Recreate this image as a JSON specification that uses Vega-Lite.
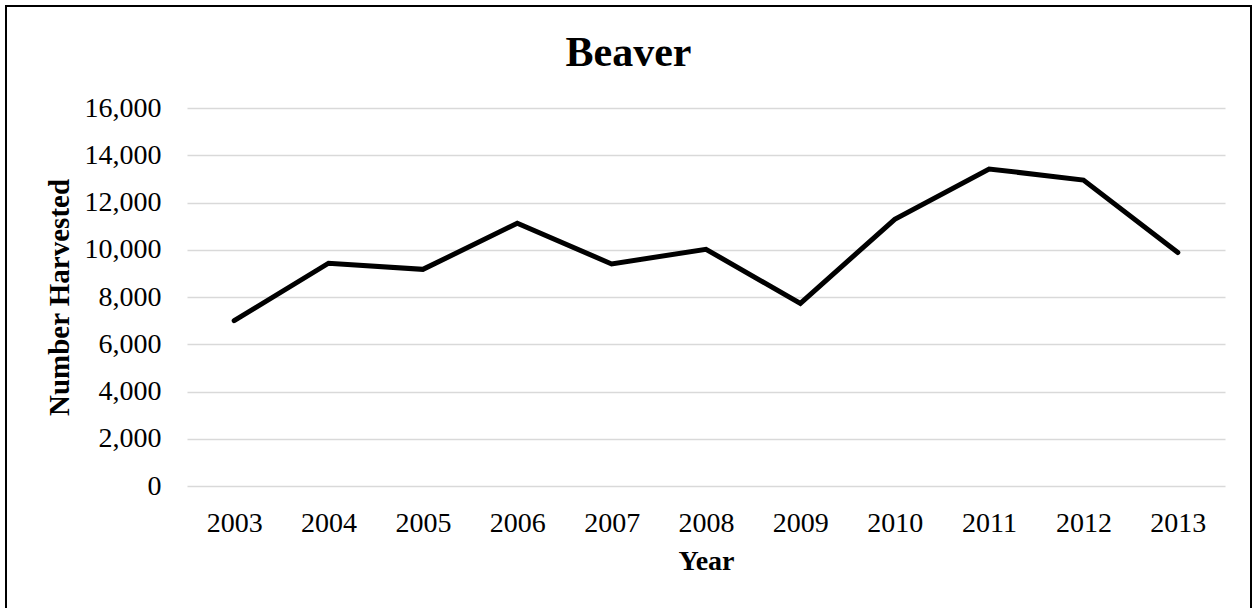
{
  "$schema": "https://vega.github.io/schema/vega-lite/v6.json",
  "width": 1245,
  "height": 604,
  "autosize": {"type": "none"},
  "padding": {"left": 6, "top": 6, "right": 3, "bottom": 0},
  "background": "white",
  "title": {
    "text": "Beaver",
    "font": "Liberation Serif",
    "fontSize": 42,
    "fontWeight": "bold",
    "color": "black",
    "anchor": "middle",
    "baseline": "alphabetic",
    "offset": 0,
    "dy": 102
  },
  "config": {
    "view": {"stroke": "black", "strokeWidth": 2}
  },
  "data": {
    "values": [
      {"Year": "2003", "Harvested": 7000},
      {"Year": "2004", "Harvested": 9430},
      {"Year": "2005", "Harvested": 9170},
      {"Year": "2006", "Harvested": 11120},
      {"Year": "2007", "Harvested": 9400},
      {"Year": "2008", "Harvested": 10020},
      {"Year": "2009", "Harvested": 7730},
      {"Year": "2010", "Harvested": 11290},
      {"Year": "2011", "Harvested": 13420},
      {"Year": "2012", "Harvested": 12950},
      {"Year": "2013", "Harvested": 9880}
    ]
  },
  "mark": {"type": "line", "color": "black", "strokeWidth": 5, "strokeCap": "round"},
  "encoding": {
    "x": {
      "field": "Year",
      "type": "ordinal",
      "scale": {"type": "point", "padding": 0.5, "range": [181, 1219]},
      "axis": {
        "title": "Year",
        "titleFont": "Liberation Serif",
        "titleFontSize": 28,
        "titleFontWeight": "bold",
        "titleColor": "black",
        "titlePadding": 10,
        "labelFont": "Liberation Serif",
        "labelFontSize": 28,
        "labelColor": "black",
        "labelAngle": 0,
        "labelBaseline": "alphabetic",
        "labelPadding": 45,
        "ticks": false,
        "tickSize": 0,
        "domain": false,
        "grid": false,
        "offset": -124
      }
    },
    "y": {
      "field": "Harvested",
      "type": "quantitative",
      "scale": {"domain": [0, 16000], "range": [480, 102], "nice": false},
      "axis": {
        "title": "Number Harvested",
        "titleFont": "Liberation Serif",
        "titleFontSize": 29,
        "titleFontWeight": "bold",
        "titleColor": "black",
        "titlePadding": 10,
        "labelFont": "Liberation Serif",
        "labelFontSize": 28,
        "labelColor": "black",
        "labelPadding": 2,
        "ticks": false,
        "tickSize": 0,
        "domain": false,
        "grid": true,
        "gridColor": "#d9d9d9",
        "gridWidth": 1.3,
        "values": [0, 2000, 4000, 6000, 8000, 10000, 12000, 14000, 16000],
        "format": ",d",
        "offset": -157
      }
    }
  }
}
